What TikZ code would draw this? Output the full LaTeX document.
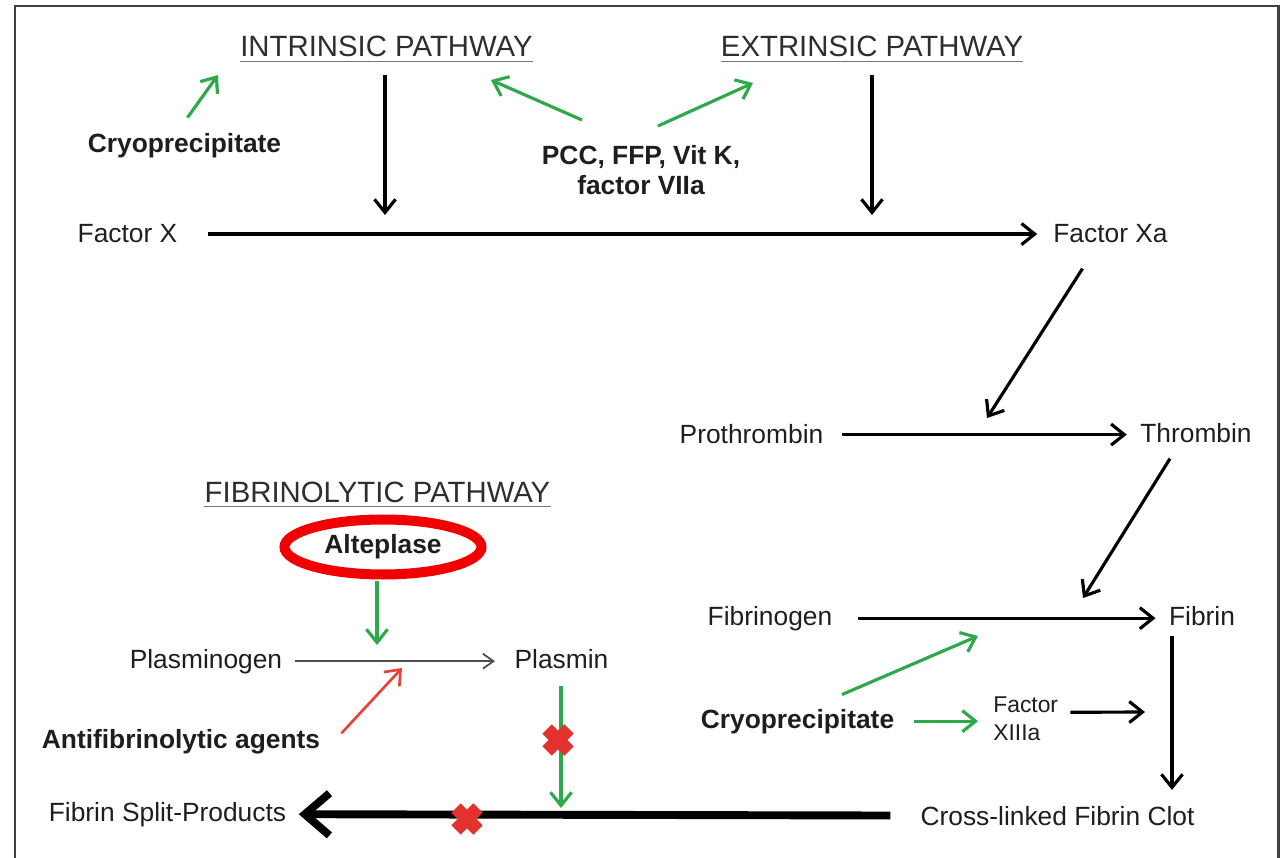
\documentclass[tikz,border=0pt]{standalone}
\usepackage{fontspec}
\setmainfont{Liberation Sans}
\usetikzlibrary{arrows.meta,shapes.geometric}
\definecolor{inkgray}{HTML}{1E1E1E}
\definecolor{headgray}{HTML}{2E2E2E}
\definecolor{rulegray}{HTML}{777777}
\definecolor{framegray}{HTML}{404040}
\definecolor{drggreen}{HTML}{2DA84A}
\definecolor{drgred}{HTML}{E84038}
\definecolor{crossred}{HTML}{E3322D}
\definecolor{ringred}{HTML}{F20000}

\tikzset{
  lbl/.style={inner sep=0pt, anchor=base, text=inkgray, font=\fontsize{15}{17}\selectfont},
  bld/.style={lbl, font=\fontsize{15}{17}\selectfont\bfseries},
  hdr/.style={lbl, text=headgray, font=\fontsize{16.7}{19}\selectfont},
  blk/.style={line width=1.8pt, -{Straight Barb[length=7.5pt,width=12pt]}},
  grn/.style={drggreen, line width=1.8pt, -{Straight Barb[length=7.5pt,width=12pt]}},
  redarr/.style={drgred, line width=1.5pt, -{Straight Barb[length=7.5pt,width=12pt]}},
  thinarr/.style={black!70, line width=1pt, -{Straight Barb[length=6pt,width=8.5pt]}},
  heavy/.style={line width=4.5pt, -{Straight Barb[length=14pt,width=24pt]}},
  blockx/.pic={\draw[crossred, line width=7.5pt] (-11,-11) -- (11,11) (-11,11) -- (11,-11);}
}

\begin{document}
\begin{tikzpicture}[x=0.02cm, y=-0.02cm]
\useasboundingbox (0,0) rectangle (1286,858);
\draw[framegray, line width=1.7pt] (15,6) rectangle (1278,880);
% headings
\node[hdr] (intr) at (386.5,57) {INTRINSIC PATHWAY};
\node[hdr] (extr) at (872,57) {EXTRINSIC PATHWAY};
\node[hdr] (fibr) at (377.5,502) {FIBRINOLYTIC PATHWAY};
\foreach \h in {intr,extr,fibr}
  \draw[rulegray, line width=1pt] ([yshift=-2.5pt]\h.base west) -- ([yshift=-2.5pt]\h.base east);
% cascade
\node[lbl] (fx) at (127.5,243) {Factor X};
\node[lbl] (fxa) at (1110.5,243) {Factor Xa};
\node[lbl] (pro) at (751.5,444) {Prothrombin};
\node[lbl] (thr) at (1196,442) {Thrombin};
\node[lbl] (fbg) at (770,625) {Fibrinogen};
\node[lbl] (fin) at (1202,625) {Fibrin};
\node[lbl] (clot) at (1057.5,825) {Cross-linked Fibrin Clot};
\node[lbl] (fsp) at (167.5,821) {Fibrin Split-Products};
\node[lbl] (plg) at (206,668) {Plasminogen};
\node[lbl] (pls) at (561.5,668) {Plasmin};
\node[lbl, align=left, anchor=north west, font=\fontsize{13}{15.9}\selectfont] (f13) at (993,696) {Factor\\XIIIa};
% agents
\node[bld] (cryo1) at (184.5,153) {Cryoprecipitate};
\node[bld] (cryo2) at (797.5,728) {Cryoprecipitate};
\node[bld, align=center, anchor=north] (pcc) at (641,145) {PCC, FFP, Vit K,\\factor VIIa};
\node[bld] (anti) at (181,748) {Antifibrinolytic agents};
\node[bld, ellipse, anchor=center, draw=ringred, line width=5.7pt, minimum width=3.94cm, minimum height=1.1cm] (alte) at (383,547) {Alteplase};

% pathways into factor X line
\coordinate (xi) at (385,215);
\coordinate (xe) at (872,215);
\draw[blk, shorten <=10pt] (intr.south -| xi) -- (xi);
\draw[blk, shorten <=10pt] (extr.south -| xe) -- (xe);
\draw[blk, shorten <=17.5pt, shorten >=9pt] (fx.east) -- (fx.east -| fxa.west);
\coordinate (pro-in) at (987,418);
\draw[blk] ([shift={(-28,25)}]fxa.south) -- (pro-in);
\draw[blk, shorten <=10.5pt, shorten >=7.5pt] (pro.east) -- (pro.east -| thr.west);
\coordinate (fib-in) at (1083,598);
\draw[blk] ([shift={(-26,16)}]thr.south) -- (fib-in);
\draw[blk, shorten <=14.5pt, shorten >=7.5pt] (fbg.east) -- (fbg.east -| fin.west);
\coordinate (clot-in) at (1172,790);
\draw[blk, shorten <=6pt] (fin.south -| clot-in) -- (clot-in);
\coordinate (xiii-out) at (1145,712);
\draw[blk] ([shift={(12,-6)}]f13.east) -- (xiii-out);
\draw[heavy, shorten <=17pt, shorten >=7pt] (clot.west) -- (fsp.east);

% treatments
\coordinate (int-cryo) at (218,75);
\draw[grn] ([shift={(3,-16)}]cryo1.north) -- (int-cryo);
\coordinate (int-pcc) at (491,80);
\coordinate (ext-pcc) at (753,83);
\draw[grn] ([shift={(-59,-25)}]pcc.north) -- (int-pcc);
\draw[grn] ([shift={(17,-19)}]pcc.north) -- (ext-pcc);
\coordinate (fib-cryo) at (978,636);
\draw[grn] ([shift={(44.5,-14)}]cryo2.north) -- (fib-cryo);
\draw[grn, shorten <=11pt, shorten >=8.5pt] (cryo2.east) -- (cryo2.east -| f13.west);

% fibrinolysis
\coordinate (plg-in) at (377,645);
\draw[grn, shorten <=1pt] (alte.south -| plg-in) -- (plg-in);
\draw[thinarr, shorten <=7pt, shorten >=11pt] (plg.east) -- (plg.east -| pls.west);
\coordinate (plg-anti) at (402,668);
\draw[redarr] ([shift={(21,-8)}]anti.east) -- (plg-anti);
\coordinate (lysis) at (561,808);
\draw[grn, shorten <=10pt] (pls.south -| lysis) -- (lysis);
\pic at (558,740) {blockx};
\pic at (467,819) {blockx};
\end{tikzpicture}
\end{document}
